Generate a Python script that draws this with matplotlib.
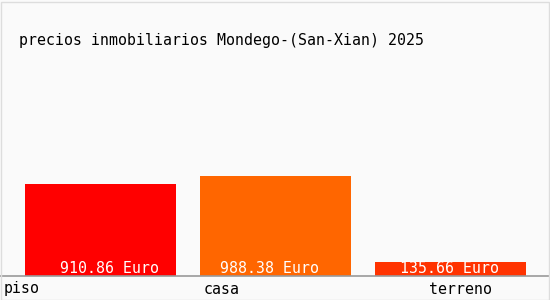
import matplotlib
matplotlib.use("Agg")
from matplotlib import pyplot as plt
from matplotlib.patches import Rectangle

title = "precios inmobiliarios Mondego-(San-Xian) 2025"
categories = ["piso", "casa", "terreno"]
values = [910.86, 988.38, 135.66]
unit = "Euro"
colors = ["#ff0000", "#ff6600", "#ff3300"]

W, H = 550, 300
fig = plt.figure(figsize=(W / 100, H / 100), dpi=100, facecolor="#fafafa")
fig.patches.append(Rectangle((0.5 / W, 0.5 / H), (W - 2) / W, (H - 2.5) / H,
                             transform=fig.transFigure, fill=False,
                             edgecolor="#dddddd", linewidth=1))

# axes: baseline at pixel 275, 200 px tall, full width
ax = fig.add_axes([0, 24.5 / H, 1, 200 / H])
ax.set_facecolor("none")
for s in ax.spines.values():
    s.set_visible(False)
ax.set_xticks([])
ax.set_yticks([])

px_per_unit = 92 / 910.86
ax.set_xlim(-100.5 / 175, 449.5 / 175)
ax.set_ylim(0, 200 / px_per_unit)

x = list(range(len(values)))
ax.bar(x, values, width=151 / 175, color=colors, zorder=2)
ax.axhline(0, color="#999999", linewidth=1.2, zorder=3, clip_on=False)

font = dict(family="DejaVu Sans Mono", fontsize=10.7)
label_shift = [8.5, -6.5, -1.5]  # px, value label offset from bar centre
for i, v in enumerate(values):
    ax.text(i + label_shift[i] / 175, 7 / px_per_unit, f"{v:.2f} {unit}", color="white",
            ha="center", va="center", zorder=4, **font)

# category label anchors (left edge px / centred px)
label_pos = [(4, "left"), (204, "left"), (461, "center")]
for name, (px, ha) in zip(categories, label_pos):
    fig.text(px / W, 1 - 289 / H, name, ha=ha, va="center", color="black", **font)

fig.text(19 / W, 1 - 40 / H, title, ha="left", va="center", color="black", **font)

fig.savefig("out.png", dpi=100, facecolor=fig.get_facecolor())
